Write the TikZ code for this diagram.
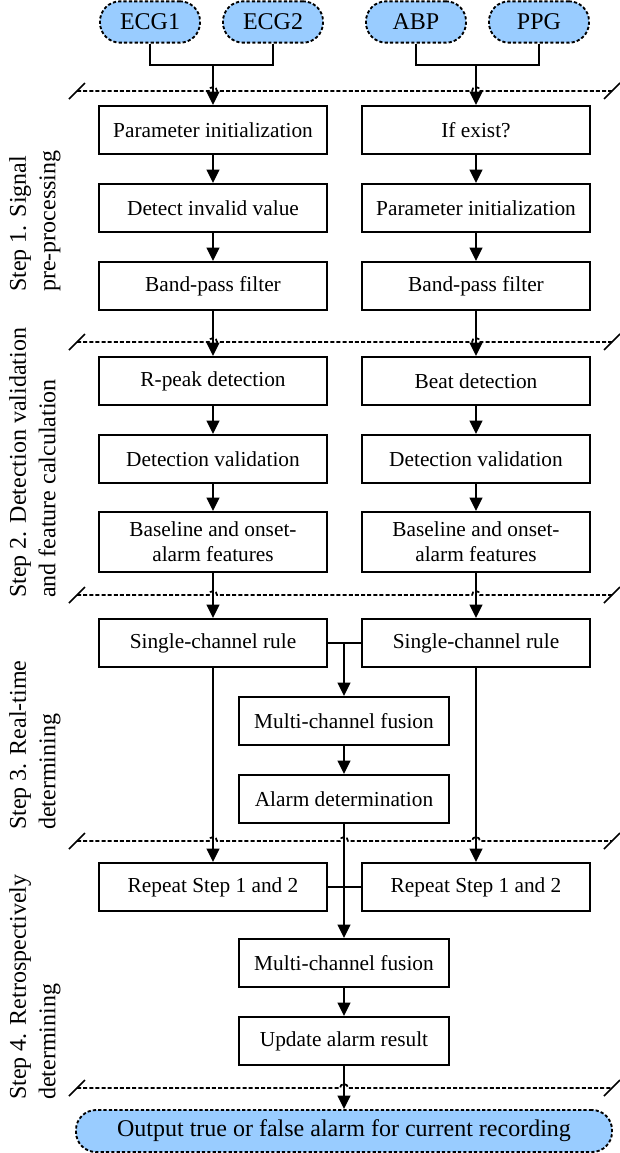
\documentclass[tikz,border=0pt]{standalone}
\usepackage{fontspec}
\setmainfont{Liberation Serif}
\usetikzlibrary{arrows.meta}
\definecolor{sigblue}{RGB}{153,204,255}

% dashed step separator: y, then the x of every crossing arrow
\newcommand\sepline[2]{%
  \draw[sep] (77,#1) \foreach \hx in {#2} {-- (\hx-4,#1) arc[start angle=180, end angle=0, radius=3pt]} -- (612,#1);
  \draw[line width=1.3pt] (69,#1+8) -- (85,#1-8);
  \draw[line width=1.3pt] (604,#1+8) -- (620,#1-8);
}

\begin{document}
\begin{tikzpicture}
[
    x=0.75pt, y=-0.75pt,
    sig/.style={draw, fill=sigblue, rounded corners=15pt, line width=1.4pt, dash pattern=on 2.4pt off 1.6pt, minimum width=75pt, minimum height=31pt, font=\fontsize{18}{21}\selectfont},
    proc/.style={draw, line width=1.5pt, minimum width=171pt, minimum height=36pt, align=center, font=\fontsize{16}{19}\selectfont},
    mid/.style={proc, minimum width=158pt},
    arr/.style={-{Triangle[length=10pt,width=9.5pt]}, line width=1.5pt},
    link/.style={line width=1.5pt},
    sep/.style={line width=1.3pt, dash pattern=on 3pt off 1.6pt},
    steplab/.style={rotate=90, anchor=north west, align=left, inner sep=0pt, font=\fontsize{18}{22}\selectfont},
]
\useasboundingbox (0,0) rectangle (620,1153);

% inputs
\node[sig] (ecgA) at (150,22) {ECG1};
\node[sig] (ecgB) at (273,22) {ECG2};
\node[sig] (abp) at (416,22) {ABP};
\node[sig] (ppg) at (539,22) {PPG};
\coordinate (jA) at (213,65);
\coordinate (jB) at (476,65);

% step 1
\node[proc] (parL) at (213,130) {Parameter initialization};
\node[proc] (detL) at (213,208) {Detect invalid value};
\node[proc] (bpL) at (213,286) {Band-pass filter};
\node[proc] (exR) at (476,130) {If exist?};
\node[proc] (parR) at (476,208) {Parameter initialization};
\node[proc] (bpR) at (476,286) {Band-pass filter};

% step 2
\node[proc] (rpL) at (213,381) {R-peak detection};
\node[proc] (dvL) at (213,459) {Detection validation};
\node[proc, minimum height=45pt] (blL) at (213,542) {Baseline and onset-\\alarm features};
\node[proc] (btR) at (476,381) {Beat detection};
\node[proc] (dvR) at (476,459) {Detection validation};
\node[proc, minimum height=45pt] (blR) at (476,542) {Baseline and onset-\\alarm features};

% step 3
\node[proc] (scL) at (213,643) {Single-channel rule};
\node[proc] (scR) at (476,643) {Single-channel rule};
\coordinate (jS) at (344,643);
\node[mid] (mcf) at (344,721) {Multi-channel fusion};
\node[mid] (ald) at (344,799) {Alarm determination};

% step 4
\node[proc] (rsL) at (213,887) {Repeat Step 1 and 2};
\node[proc] (rsR) at (476,887) {Repeat Step 1 and 2};
\node[mid] (mcfB) at (344,963) {Multi-channel fusion};
\node[mid] (upd) at (344,1041) {Update alarm result};
\node[sig, minimum width=402pt, minimum height=31.5pt] (out) at (344,1131) {Output true or false alarm for current recording};

% step labels
\node[steplab] (labA) at (9,292) {Step 1. Signal\\pre-processing};
\node[steplab] (labB) at (9,598) {Step 2. Detection validation\\and feature calculation};
\node[steplab] (labC) at (9,830) {Step 3. Real-time\\determining};
\node[steplab] (labD) at (9,1100) {Step 4. Retrospectively\\determining};

\sepline{91}{213,476}
\sepline{342}{213,476}
\sepline{595}{213,476}
\sepline{841}{213,344,476}
\sepline{1088}{344}

\draw[link] (ecgA.south) |- (jA) -| (ecgB.south);
\draw[link] (abp.south) |- (jB) -| (ppg.south);
\draw[arr] (jA) -- (parL);
\draw[arr] (jB) -- (exR);
\draw[arr] (parL) -- (detL);
\draw[arr] (detL) -- (bpL);
\draw[arr] (exR) -- (parR);
\draw[arr] (parR) -- (bpR);
\draw[arr] (bpL) -- (rpL);
\draw[arr] (bpR) -- (btR);
\draw[arr] (rpL) -- (dvL);
\draw[arr] (dvL) -- (blL);
\draw[arr] (btR) -- (dvR);
\draw[arr] (dvR) -- (blR);
\draw[arr] (blL) -- (scL);
\draw[arr] (blR) -- (scR);
\draw[link] (scL) -- (scR);
\draw[arr] (jS) -- (mcf);
\draw[arr] (mcf) -- (ald);
\draw[arr] (scL) -- (rsL);
\draw[arr] (scR) -- (rsR);
\draw[link] (rsL) -- (rsR);
\draw[arr] (ald) -- (mcfB);
\draw[arr] (mcfB) -- (upd);
\draw[arr] (upd) -- (out);
\end{tikzpicture}
\end{document}
